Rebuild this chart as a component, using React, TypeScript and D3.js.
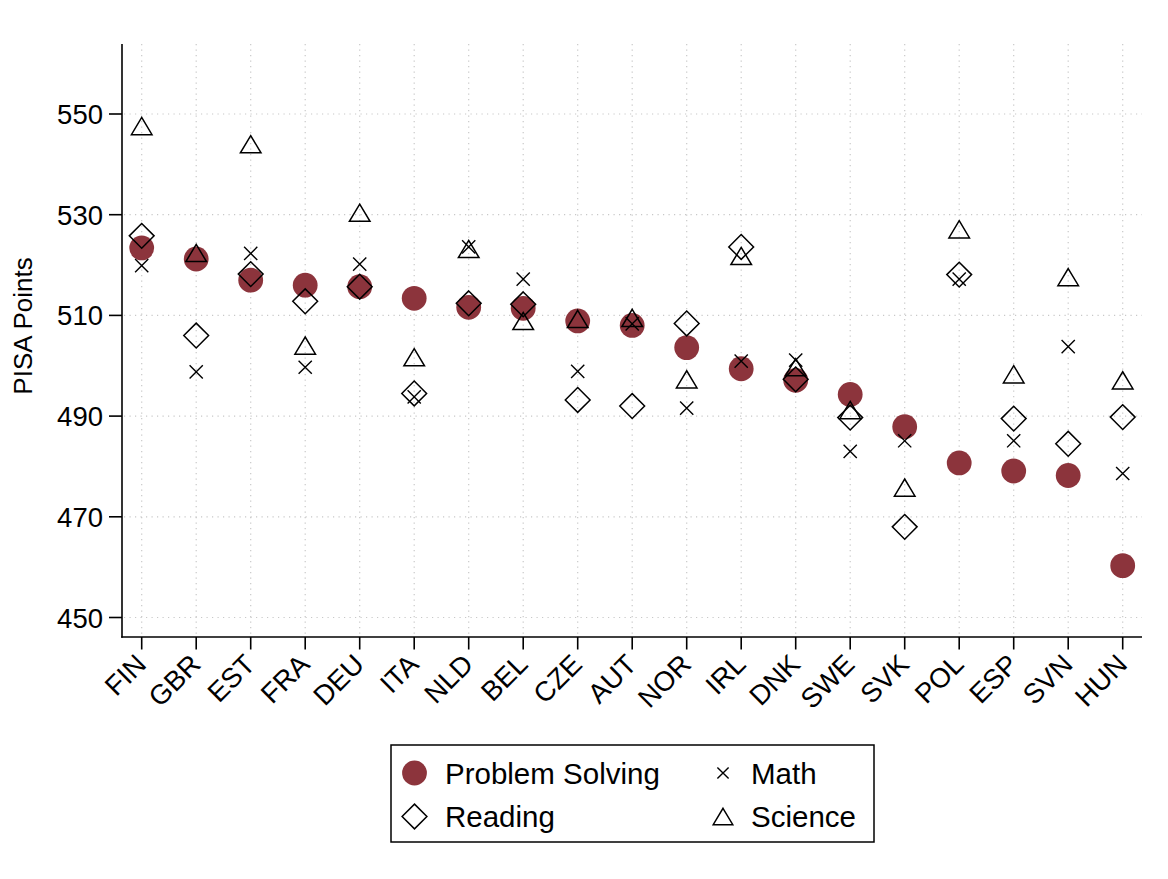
import React from "react";
import * as d3 from "d3";

// PISA scores by country
const countries = ["FIN", "GBR", "EST", "FRA", "DEU", "ITA", "NLD", "BEL", "CZE", "AUT", "NOR", "IRL", "DNK", "SWE", "SVK", "POL", "ESP", "SVN", "HUN"];
const problemSolving = [523.4, 521.2, 517.0, 516.0, 515.7, 513.4, 511.6, 511.4, 508.9, 508.0, 503.6, 499.4, 497.1, 494.3, 487.9, 480.7, 479.1, 478.2, 460.3];
const reading = [525.8, 506.0, 518.2, 512.8, 515.7, 494.5, 512.4, 512.2, 493.2, 492.0, 508.4, 523.6, 497.3, 489.7, 468.0, 518.1, 489.5, 484.5, 489.8];
const math = [519.9, 498.8, 522.3, 499.7, 520.2, 493.8, 523.6, 517.2, 498.9, 508.3, 491.6, 500.9, 501.1, 483.0, 485.1, 517.2, 485.1, 503.8, 478.6];
const science = [547.6, 522.4, 544.0, 504.0, 530.4, 501.7, 523.2, 508.9, 509.3, 509.5, 497.3, 521.8, 499.7, 491.2, 475.8, 527.1, 498.3, 517.6, 497.1];
const yTicks = [450, 470, 490, 510, 530, 550];

const legendItems = [
  { label: "Problem Solving", shape: "circle", col: 0, row: 0 },
  { label: "Math", shape: "x", col: 1, row: 0 },
  { label: "Reading", shape: "diamond", col: 0, row: 1 },
  { label: "Science", shape: "triangle", col: 1, row: 1 },
];

const W = 1168;
const H = 879;
const FONT = "'Liberation Sans', Arial, Helvetica, sans-serif";
const RED = "#8c343c";

const plotLeft = 122;
const plotRight = 1142;
const plotTop = 44;
const plotBottom = 637;

const x = d3.scalePoint<string>().domain(countries).range([141.7, 1122.7]);
const y = d3.scaleLinear().domain([450, 550]).range([617.5, 114]);

function Marker({ shape, cx, cy, scale = 1 }: { shape: string; cx: number; cy: number; scale?: number }) {
  if (shape === "circle") {
    return <circle cx={cx} cy={cy} r={12.4 * scale} fill={RED} />;
  }
  if (shape === "diamond") {
    const r = 12.4 * scale;
    return (
      <path
        d={`M${cx},${cy - r}L${cx + r},${cy}L${cx},${cy + r}L${cx - r},${cy}Z`}
        fill="none"
        stroke="#000"
        strokeWidth={1.5}
      />
    );
  }
  if (shape === "triangle") {
    const w = 20.6 * scale;
    const h = 17.2 * scale;
    return (
      <path
        d={`M${cx},${cy - h / 2}L${cx + w / 2},${cy + h / 2}L${cx - w / 2},${cy + h / 2}Z`}
        fill="none"
        stroke="#000"
        strokeWidth={1.5}
      />
    );
  }
  const s = 6.6 * scale;
  return (
    <path
      d={`M${cx - s},${cy - s}L${cx + s},${cy + s}M${cx - s},${cy + s}L${cx + s},${cy - s}`}
      stroke="#000"
      strokeWidth={1.4}
    />
  );
}

export default function App() {
  const series = [
    { shape: "circle", values: problemSolving },
    { shape: "diamond", values: reading },
    { shape: "x", values: math },
    { shape: "triangle", values: science },
  ];

  return (
    <svg
      width={W}
      height={H}
      viewBox={`0 0 ${W} ${H}`}
      style={{ position: "absolute", left: 0, top: 0, background: "#fff" }}
      fontFamily={FONT}
    >
      <rect x={0} y={0} width={W} height={H} fill="#fff" />

      {/* gridlines */}
      <g stroke="#c8c8c8" strokeWidth={1.2} strokeDasharray="1.2 4.3">
        {yTicks.map((t) => (
          <line key={`gy${t}`} x1={plotLeft + 2} x2={plotRight} y1={y(t)} y2={y(t)} />
        ))}
        {countries.map((c) => (
          <line key={`gx${c}`} x1={x(c)!} x2={x(c)!} y1={plotTop} y2={plotBottom - 1} />
        ))}
      </g>

      {/* axes */}
      <g stroke="#000" strokeWidth={1.6}>
        <line x1={plotLeft} x2={plotLeft} y1={plotTop} y2={plotBottom + 0.8} />
        <line x1={plotLeft - 0.8} x2={plotRight} y1={plotBottom} y2={plotBottom} />
        {yTicks.map((t) => (
          <line key={`ty${t}`} x1={plotLeft - 13} x2={plotLeft} y1={y(t)} y2={y(t)} />
        ))}
        {countries.map((c) => (
          <line key={`tx${c}`} x1={x(c)!} x2={x(c)!} y1={plotBottom} y2={plotBottom + 12.5} />
        ))}
      </g>

      <g fontSize={27.5} fill="#000">
        {yTicks.map((t) => (
          <text key={`ly${t}`} x={103} y={y(t) + 10} textAnchor="end">
            {t}
          </text>
        ))}
        {countries.map((c) => (
          <text
            key={`lx${c}`}
            textAnchor="end"
            transform={`translate(${x(c)! + 6},${666}) rotate(-45)`}
          >
            {c}
          </text>
        ))}
        <text transform={`translate(${32},${326}) rotate(-90)`} textAnchor="middle" fontSize={26}>
          PISA Points
        </text>
      </g>

      {/* data markers */}
      {series.map((s) => (
        <g key={s.shape}>
          {s.values.map((v, i) => (
            <Marker key={i} shape={s.shape} cx={x(countries[i])!} cy={y(v)} />
          ))}
        </g>
      ))}

      {/* legend */}
      <rect x={391} y={745} width={483} height={97} fill="#fff" stroke="#000" strokeWidth={1.5} />
      {legendItems.map((it) => {
        const mx = it.col === 0 ? 414.5 : 723;
        const tx = it.col === 0 ? 445 : 751;
        const cy = it.row === 0 ? 773 : 816.5;
        return (
          <g key={it.label}>
            <Marker shape={it.shape} cx={mx} cy={cy} scale={it.shape === "x" ? 0.85 : it.shape === "triangle" ? 0.95 : 1} />
            <text x={tx} y={cy + 10.5} fontSize={29.5} fill="#000">
              {it.label}
            </text>
          </g>
        );
      })}
    </svg>
  );
}
